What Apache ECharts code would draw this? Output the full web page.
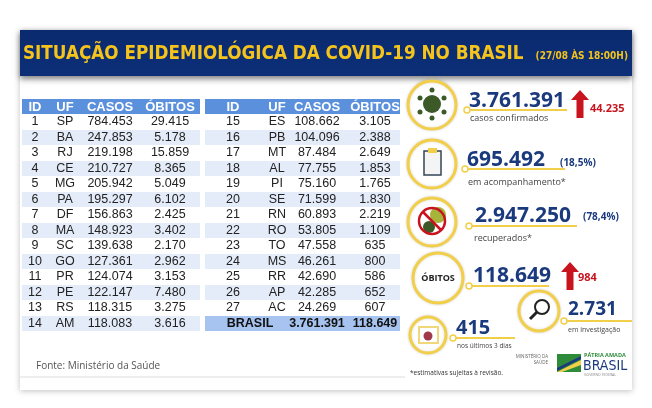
<!DOCTYPE html>
<html><head><meta charset="utf-8">
<script src="https://cdn.jsdelivr.net/npm/echarts@6/dist/echarts.min.js"></script>
<style>html,body{margin:0;padding:0;background:#fff}#c{width:652px;height:408px}</style>
</head><body><div id="c"></div>
<script>
const headers = ['ID','UF','CASOS','ÓBITOS'];
const ids = [1,2,3,4,5,6,7,8,9,10,11,12,13,14,15,16,17,18,19,20,21,22,23,24,25,26,27];
const ufs = ['SP','BA','RJ','CE','MG','PA','DF','MA','SC','GO','PR','PE','RS','AM','ES','PB','MT','AL','PI','SE','RN','RO','TO','MS','RR','AP','AC'];
const casos = ['784.453','247.853','219.198','210.727','205.942','195.297','156.863','148.923','139.638','127.361','124.074','122.147','118.315','118.083','108.662','104.096','87.484','77.755','75.160','71.599','60.893','53.805','47.558','46.261','42.690','42.285','24.269'];
const obitos = ['29.415','5.178','15.859','8.365','5.049','6.102','2.425','3.402','2.170','2.962','3.153','7.480','3.275','3.616','3.105','2.388','2.649','1.853','1.765','1.830','2.219','1.109','635','800','586','652','607'];
const total = ['BRASIL','3.761.391','118.649'];
const title = 'SITUAÇÃO EPIDEMIOLÓGICA DA COVID-19 NO BRASIL';
const subtitle = '(27/08 ÀS 18:00H)';
const stats = [
  {value:'3.761.391', label:'casos confirmados', extra:'44.235'},
  {value:'695.492', label:'em acompanhamento*', extra:'(18,5%)'},
  {value:'2.947.250', label:'recuperados*', extra:'(78,4%)'},
  {value:'118.649', label:'', extra:'984'},
  {value:'415', label:'nos últimos 3 dias', extra:''},
  {value:'2.731', label:'em investigação', extra:''}
];

const F = 'Liberation Sans, Arial, sans-serif';
const NUM = 'bold 21px "Open Sans", sans-serif';
const G = [];
G.push({type:'rect',shape:{x:20,y:30,width:612,height:360},style:{fill:'#fff',shadowBlur:6,shadowColor:'rgba(0,0,0,0.25)',shadowOffsetY:1}});
G.push({type:'rect',shape:{x:20,y:30,width:612,height:46},style:{fill:new echarts.graphic.LinearGradient(0,0,0,1,[{offset:0,color:'#0a2a6e'},{offset:1,color:'#0c2f78'}]),shadowBlur:6,shadowColor:'rgba(0,0,0,0.5)',shadowOffsetY:3}});
G.push({type:'text',style:{x:23,y:54,text:title,font:'bold 18.7px "DejaVu Sans Condensed", "DejaVu Sans", sans-serif',fill:'#f4c31c',verticalAlign:'middle'}});
G.push({type:'text',style:{x:628,y:56,text:subtitle,font:'bold 10px "DejaVu Sans Condensed", sans-serif',fill:'#f4c31c',align:'right',verticalAlign:'middle'}});

const tables = [{x0:22,w:178,cols:[35,65,110,170]},{x0:205,w:195,cols:[233,277,317,375]}];
const y0 = 106.5, rh = 15.5;
tables.forEach((t,ti)=>{
  G.push({type:'rect',shape:{x:t.x0,y:99,width:t.w,height:15},style:{fill:'#5b90dc'}});
  headers.forEach((h,ci)=>G.push({type:'text',style:{x:t.cols[ci],y:y0+1,text:h,font:'bold 13px '+F,fill:'#fff',align:'center',verticalAlign:'middle'}}));
  for(let r=0;r<14;r++){
    const i = ti*14+r;
    const y = y0+(r+1)*rh;
    if(i>=27){
      G.push({type:'rect',shape:{x:t.x0,y:y-7.5,width:t.w,height:15},style:{fill:'#a7c3ef'}});
      G.push({type:'text',style:{x:250,y:y,text:total[0],font:'bold 12.5px '+F,fill:'#111',align:'center',verticalAlign:'middle'}});
      G.push({type:'text',style:{x:t.cols[2],y:y,text:total[1],font:'bold 12.5px '+F,fill:'#111',align:'center',verticalAlign:'middle'}});
      G.push({type:'text',style:{x:t.cols[3],y:y,text:total[2],font:'bold 12.5px '+F,fill:'#111',align:'center',verticalAlign:'middle'}});
      continue;
    }
    if(r%2===1) G.push({type:'rect',shape:{x:t.x0,y:y-7.5,width:t.w,height:15},style:{fill:'#e5ecf9'}});
    const vals=[String(ids[i]),ufs[i],casos[i],obitos[i]];
    vals.forEach((v,ci)=>G.push({type:'text',style:{x:t.cols[ci],y:y,text:v,font:'12.5px '+F,fill:'#222',align:'center',verticalAlign:'middle'}}));
  }
});
G.push({type:'text',style:{x:36,y:366,text:'Fonte: Ministério da Saúde',font:'10px "Open Sans", sans-serif',fill:'#555',verticalAlign:'middle'}});
G.push({type:'line',shape:{x1:20,y1:377,x2:405,y2:377},style:{stroke:'#ddd',lineWidth:1}});

const NAVY='#1b3a7e', YEL='#f2cf4a', RED='#c8141e';
function circle(cx,cy,r){
  G.push({type:'circle',shape:{cx,cy,r},style:{fill:'#fff',stroke:YEL,lineWidth:3,shadowBlur:3,shadowColor:'rgba(0,0,0,0.15)'}});
}
function uline(x,y,len){
  G.push({type:'line',shape:{x1:x,y1:y,x2:x+len,y2:y},style:{stroke:YEL,lineWidth:2}});
  G.push({type:'circle',shape:{cx:x,cy:y,r:3},style:{fill:'#fff',stroke:YEL,lineWidth:1.5}});
}
function arrow(x,y){
  G.push({type:'polygon',shape:{points:[[x,y],[x+9,y+10],[x+3.5,y+10],[x+3.5,y+28],[x-3.5,y+28],[x-3.5,y+10],[x-9,y+10]]},style:{fill:RED}});
}
circle(432,105,24);
G.push({type:'circle',shape:{cx:432,cy:104,r:9},style:{fill:'#3c5a28'}});
[[0,-14],[12,-6],[12,8],[0,14],[-12,8],[-12,-6]].forEach(p=>G.push({type:'circle',shape:{cx:432+p[0],cy:104+p[1],r:2.5},style:{fill:'#3c5a28'}}));
G.push({type:'text',style:{x:469,y:101,text:stats[0].value,font:NUM,fill:NAVY,verticalAlign:'middle'}});
uline(467,110,100);
G.push({type:'text',style:{x:470,y:118,text:stats[0].label,font:'9px "Open Sans", sans-serif',fill:'#444',verticalAlign:'middle'}});
arrow(580,90);
G.push({type:'text',style:{x:590,y:109,text:stats[0].extra,font:'bold 11px "Open Sans", sans-serif',fill:RED,verticalAlign:'middle'}});
circle(432,164,24);
G.push({type:'rect',shape:{x:424,y:151,width:17,height:24},style:{fill:'#f4f4f4',stroke:'#345',lineWidth:1.5}});
G.push({type:'rect',shape:{x:428,y:148,width:9,height:5},style:{fill:'#f2cf4a'}});
G.push({type:'text',style:{x:467,y:160,text:stats[1].value,font:NUM,fill:NAVY,verticalAlign:'middle'}});
uline(465,169,100);
G.push({type:'text',style:{x:468,y:182,text:stats[1].label,font:'9px "Open Sans", sans-serif',fill:'#444',verticalAlign:'middle'}});
G.push({type:'text',style:{x:560,y:163,text:stats[1].extra,font:'bold 10px "Open Sans", sans-serif',fill:NAVY,verticalAlign:'middle'}});
circle(432,222,24);
G.push({type:'circle',shape:{cx:438,cy:215,r:8},style:{fill:'#a6b43a'}});
G.push({type:'circle',shape:{cx:429,cy:227,r:6},style:{fill:'#3c5a28'}});
G.push({type:'circle',shape:{cx:432,cy:221,r:13},style:{fill:'none',stroke:RED,lineWidth:2.5}});
G.push({type:'line',shape:{x1:423,y1:212,x2:441,y2:230},style:{stroke:RED,lineWidth:2.5}});
G.push({type:'text',style:{x:475,y:216,text:stats[2].value,font:NUM,fill:NAVY,verticalAlign:'middle'}});
uline(469,226,108);
G.push({type:'text',style:{x:474,y:238,text:stats[2].label,font:'9px "Open Sans", sans-serif',fill:'#444',verticalAlign:'middle'}});
G.push({type:'text',style:{x:583,y:217,text:stats[2].extra,font:'bold 10px "Open Sans", sans-serif',fill:NAVY,verticalAlign:'middle'}});
circle(438,278,25);
G.push({type:'text',style:{x:438,y:278,text:'ÓBITOS',font:'bold 9px "Open Sans", sans-serif',fill:'#222',align:'center',verticalAlign:'middle'}});
G.push({type:'text',style:{x:473,y:276,text:stats[3].value,font:NUM,fill:NAVY,verticalAlign:'middle'}});
uline(469,286,80);
arrow(570,262);
G.push({type:'text',style:{x:578,y:278,text:stats[3].extra,font:'bold 11px "Open Sans", sans-serif',fill:RED,verticalAlign:'middle'}});
circle(539,311,20);
G.push({type:'circle',shape:{cx:542,cy:307,r:7},style:{fill:'#fff',stroke:'#222',lineWidth:2}});
G.push({type:'line',shape:{x1:537,y1:312,x2:530,y2:319},style:{stroke:'#222',lineWidth:3}});
G.push({type:'text',style:{x:568,y:310,text:stats[5].value,font:'bold 19px "Open Sans", sans-serif',fill:NAVY,verticalAlign:'middle'}});
uline(564,321,68);
G.push({type:'text',style:{x:568,y:330,text:stats[5].label,font:'7px "Open Sans", sans-serif',fill:'#444',verticalAlign:'middle'}});
circle(428,335,18);
G.push({type:'rect',shape:{x:419,y:327,width:19,height:16},style:{fill:'#fff',stroke:'#f0d77a',lineWidth:2}});
G.push({type:'circle',shape:{cx:428,cy:336,r:4.5},style:{fill:'#a03a4a'}});
G.push({type:'text',style:{x:456,y:328,text:stats[4].value,font:'bold 20px "Open Sans", sans-serif',fill:NAVY,verticalAlign:'middle'}});
uline(453,338,62);
G.push({type:'text',style:{x:457,y:346,text:stats[4].label,font:'6.5px "Open Sans", sans-serif',fill:'#444',verticalAlign:'middle'}});
G.push({type:'text',style:{x:548,y:360,text:'MINISTÉRIO DA\nSAÚDE',font:'4.5px "Open Sans", sans-serif',fill:'#666',align:'right',verticalAlign:'middle',lineHeight:6}});
G.push({type:'rect',shape:{x:557,y:354,width:24,height:18},style:{fill:'#2e8b3a'}});
G.push({type:'polygon',shape:{points:[[557,372],[581,360],[581,365],[562,372]]},style:{fill:'#f2cf4a'}});
G.push({type:'polygon',shape:{points:[[557,368],[581,356],[581,359],[557,371]]},style:{fill:'#1b3a7e'}});
G.push({type:'text',style:{x:584,y:355,text:'PÁTRIA AMADA',font:'bold 5.5px "Open Sans", sans-serif',fill:'#2e8b3a',verticalAlign:'middle'}});
G.push({type:'text',style:{x:583,y:366,text:'BRASIL',font:'14px "DejaVu Sans Condensed", sans-serif',fill:'#1b3a7e',verticalAlign:'middle'}});
G.push({type:'text',style:{x:584,y:375,text:'GOVERNO FEDERAL',font:'3.5px "Open Sans", sans-serif',fill:'#888',verticalAlign:'middle'}});
G.push({type:'text',style:{x:410,y:373,text:'*estimativas sujeitas à revisão.',font:'6.5px "Open Sans", sans-serif',fill:'#333',verticalAlign:'middle'}});

const chart = echarts.init(document.getElementById('c'));
chart.setOption({animation:false,graphic:G});
</script></body></html>
